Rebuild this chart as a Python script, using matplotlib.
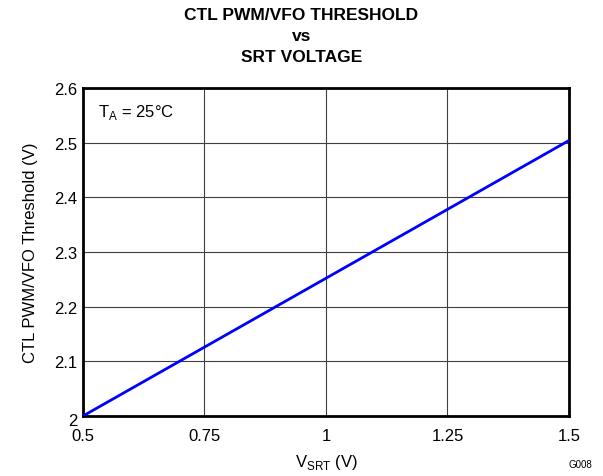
import matplotlib
matplotlib.use('Agg')
import matplotlib.pyplot as plt
import matplotlib.transforms as mtransforms

plt.rcParams['font.family'] = ['Liberation Sans', 'DejaVu Sans']

# data
v_srt = [0.5, 1.5]
threshold = [2.0, 2.504]
xticks = [0.5, 0.75, 1, 1.25, 1.5]
xticklabels = ['0.5', '0.75', '1', '1.25', '1.5']
yticks = [2, 2.1, 2.2, 2.3, 2.4, 2.5, 2.6]
yticklabels = ['2', '2.1', '2.2', '2.3', '2.4', '2.5', '2.6']

fig = plt.figure(figsize=(6.03, 4.77), dpi=100)
ax = fig.add_axes([0.1376, 0.1258, 0.806, 0.6876])

ax.plot(v_srt, threshold, color='#0000ff', lw=2, solid_capstyle='butt', zorder=3)
ax.set_xlim(0.5, 1.5)
ax.set_ylim(2, 2.6)
ax.set_xticks(xticks)
ax.set_xticklabels(xticklabels)
ax.set_yticks(yticks)
ax.set_yticklabels(yticklabels)
ax.tick_params(length=0, labelsize=12)
ax.tick_params(axis='x', pad=9)
ax.tick_params(axis='y', pad=4)
# nudge the bottom y label down a little, like the reference
lab0 = ax.get_yticklabels()[0]
lab0.set_transform(lab0.get_transform() +
                   mtransforms.ScaledTranslation(0, -2 / 72, fig.dpi_scale_trans))
ax.grid(True, color='#404040', lw=0.8)
for s in ax.spines.values():
    s.set_linewidth(2)

ax.set_xlabel('V$_{\\mathregular{SRT}}$ (V)', fontsize=12, labelpad=6)
ax.set_ylabel('CTL PWM/VFO Threshold (V)', fontsize=12, labelpad=12)
ax.text(0.03, 0.927, 'T$_{\\mathregular{A}}$ = 25°C', transform=ax.transAxes,
        fontsize=12, va='center')
fig.text(0.5, 0.983, 'CTL PWM/VFO THRESHOLD\nvs\nSRT VOLTAGE', ha='center', va='top',
         fontsize=12.5, fontweight='bold', linespacing=1.5)
fig.text(0.983, 0.025, 'G008', ha='right', va='center', fontsize=7)

fig.savefig('out.png', dpi=100)
